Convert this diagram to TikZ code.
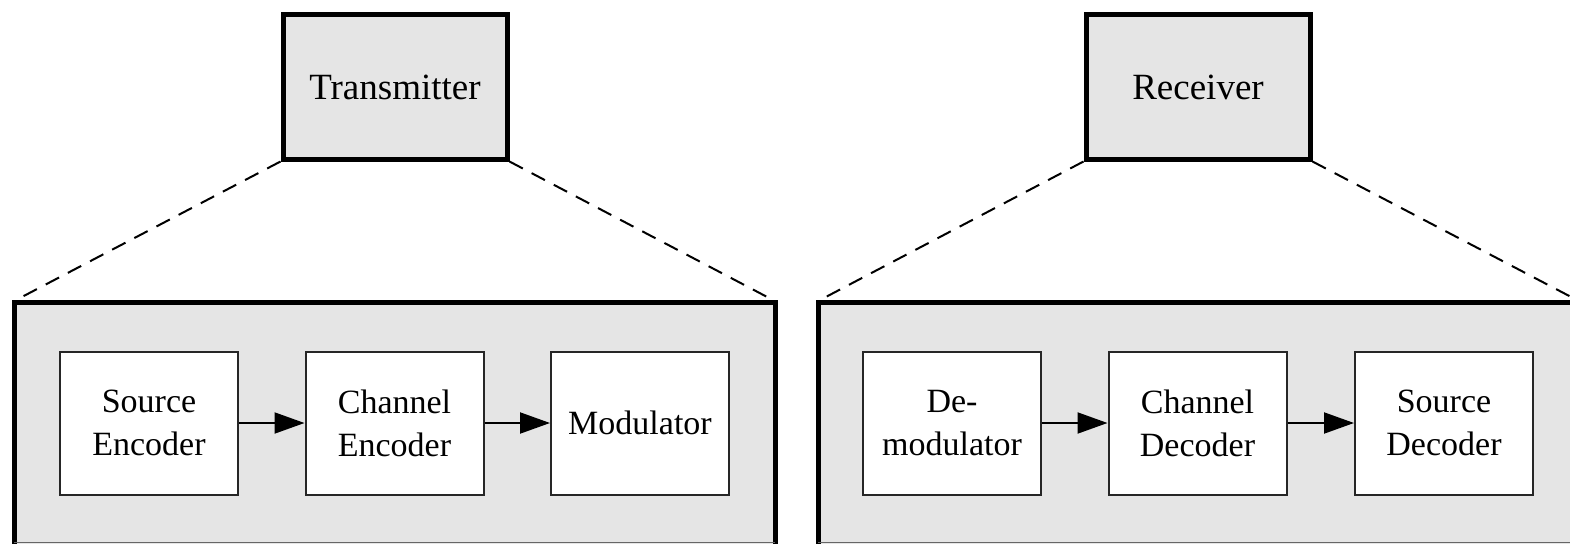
\documentclass[tikz,border=0pt]{standalone}
\usepackage{fontspec}
\setmainfont{Liberation Serif}
\usetikzlibrary{arrows.meta}
\definecolor{panel}{gray}{0.9}
\begin{document}
\begin{tikzpicture}[x=1pt,y=-1pt,
  unitbox/.style={draw=black,line width=5pt,fill=panel,minimum width=224pt,minimum height=144pt,inner sep=0pt,
    font=\fontsize{37}{44}\selectfont},
  stagebox/.style={draw=black!85,line width=2pt,fill=white,minimum width=178pt,minimum height=143pt,inner sep=0pt,
    align=center,font=\fontsize{34}{43}\selectfont},
  panelbox/.style={draw=black,line width=5pt,fill=panel},
  zoomline/.style={dashed,dash pattern=on 15pt off 10pt,line width=2pt},
  flow/.style={line width=2pt,-{Triangle[length=30pt,width=21pt]}}]
\useasboundingbox (0,0) rectangle (1570,543);
\clip (0,0) rectangle (1570,543);
% expanded panels
\draw[panelbox] (14,302) rectangle (775,580);
\draw[panelbox] (818,302) rectangle (1579,580);
\draw[black!60,line width=1pt] (14,542.5) -- (775,542.5);
\draw[black!60,line width=1pt] (818,542.5) -- (1579,542.5);
\coordinate (txnw) at (18,299);
\coordinate (txne) at (771,299);
\coordinate (rxnw) at (822,299);
\coordinate (rxne) at (1575,299);
% top-level units
\node[unitbox] (tx) at (395,87) {Transmitter};
\node[unitbox] (rx) at (1198,87) {Receiver};
\draw[zoomline] (tx.south west) -- (txnw);
\draw[zoomline] (tx.south east) -- (txne);
\draw[zoomline] (rx.south west) -- (rxnw);
\draw[zoomline] (rx.south east) -- (rxne);
% transmitter chain
\node[stagebox] (se) at (149,423) {Source\\Encoder};
\node[stagebox] (ce) at (394.5,423) {Channel\\Encoder};
\node[stagebox] (mod) at (640,423) {Modulator};
\draw[flow] (se) -- (ce);
\draw[flow] (ce) -- (mod);
% receiver chain
\node[stagebox] (dem) at (952,423) {De-\\modulator};
\node[stagebox] (cd) at (1197.5,423) {Channel\\Decoder};
\node[stagebox] (sd) at (1444,423) {Source\\Decoder};
\draw[flow] (dem) -- (cd);
\draw[flow] (cd) -- (sd);
\end{tikzpicture}
\end{document}
